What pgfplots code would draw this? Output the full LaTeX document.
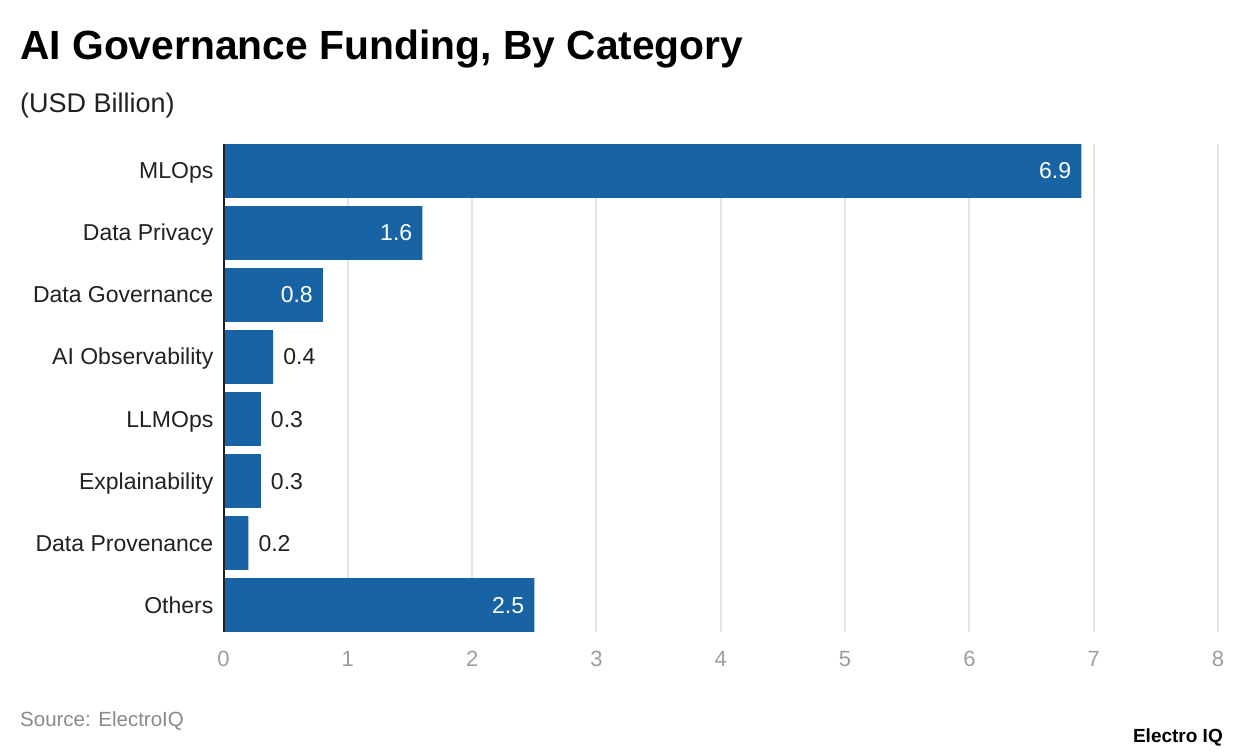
\documentclass[border=0pt]{standalone}
\usepackage{pgfplots}
\pgfplotsset{compat=1.18}
\usepackage{fontspec}
\setmainfont{Liberation Sans}

\definecolor{barblue}{HTML}{1863A3}
\definecolor{textdark}{HTML}{212121}
\definecolor{tickgray}{HTML}{9E9E9E}
\definecolor{gridgray}{HTML}{E3E3E3}
\definecolor{srcgray}{HTML}{8A8A8A}

\newcommand{\lblfont}{\fontsize{23}{27}\selectfont}
\newcommand{\tickfont}{\fontsize{22}{26}\selectfont}

\begin{document}
\begin{tikzpicture}[x=1pt,y=1pt]
\fill[white] (0,0) rectangle (1240,754);

% titles
\node[anchor=base west, inner sep=0pt, text=black, font=\fontsize{40.8}{48}\selectfont\bfseries]
  at (20,694) {AI Governance Funding, By Category};
\node[anchor=base west, inner sep=0pt, text=textdark, font=\fontsize{27}{32}\selectfont]
  at (20,641) {(USD Billion)};

\begin{axis}[
    at={(223.5pt,122pt)}, anchor=south west,
    scale only axis, width=994.5pt, height=488pt,
    xmin=0, xmax=8, ymin=-0.435, ymax=7.435,
    y dir=reverse,
    clip=false,
    xtick={0,1,2,3,4,5,6,7,8},
    ytick={0,1,2,3,4,5,6,7},
    yticklabels={MLOps,Data Privacy,Data Governance,AI Observability,LLMOps,Explainability,Data Provenance,Others},
    axis line style={draw=none},
    major tick length=0pt,
    xmajorgrids=true,
    grid style={gridgray, line width=2pt},
    /pgf/number format/assume math mode=true,
    xticklabel style={font=\tickfont, text=tickgray, anchor=base, inner sep=0pt, yshift=-34pt},
    yticklabel style={font=\lblfont, text=textdark, anchor=base east, inner sep=0pt, xshift=-10pt, yshift=-8pt},
]
    \addplot[xbar, bar width=53.6pt, fill=barblue, draw=none]
        coordinates {(6.9,0) (1.6,1) (0.8,2) (0.4,3) (0.3,4) (0.3,5) (0.2,6) (2.5,7)};

    % value labels inside the bars
    \addplot[draw=none, mark=none, point meta=x,
        nodes near coords={\pgfmathprintnumber[fixed,fixed zerofill,precision=1,assume math mode=true]{\pgfplotspointmeta}},
        nodes near coords style={anchor=base east, inner sep=0pt, xshift=-10pt, yshift=-8pt, text=white, font=\lblfont}]
        coordinates {(6.9,0) (1.6,1) (0.8,2) (2.5,7)};

    % value labels beside the short bars
    \addplot[draw=none, mark=none, point meta=x,
        nodes near coords={\pgfmathprintnumber[fixed,fixed zerofill,precision=1,assume math mode=true]{\pgfplotspointmeta}},
        nodes near coords style={anchor=base west, inner sep=0pt, xshift=10pt, yshift=-8pt, text=textdark, font=\lblfont}]
        coordinates {(0.4,3) (0.3,4) (0.3,5) (0.2,6)};

    \draw[color=textdark, line width=2pt] (axis cs:0,-0.435) -- (axis cs:0,7.435);
\end{axis}

% footer
\node[anchor=base west, inner sep=0pt, text=srcgray, font=\fontsize{20.5}{24}\selectfont]
  at (20,27) {Source: ElectroIQ};
\node[anchor=base east, inner sep=0pt, text=black, font=\fontsize{19}{22}\selectfont\bfseries]
  at (1223,11) {Electro IQ};
\end{tikzpicture}
\end{document}
